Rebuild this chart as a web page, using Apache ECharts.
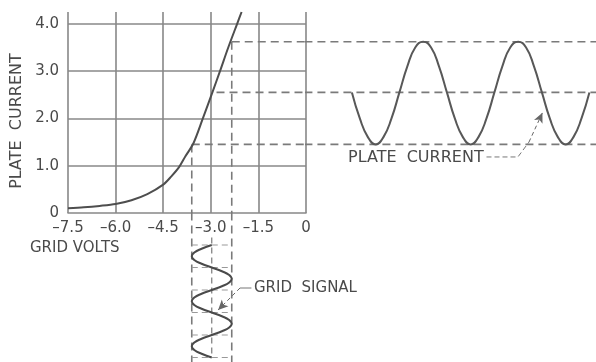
<!DOCTYPE html>
<html><head><meta charset="utf-8">
<script src="https://cdn.jsdelivr.net/npm/echarts@6/dist/echarts.min.js"></script>
<style>html,body{margin:0;padding:0;background:#fff}#c{width:596px;height:362px}</style>
</head><body><div id="c"></div>
<script>
// ---- data ----
const curveVolts   = [-7.5,-7.0,-6.5,-6.0,-5.5,-5.0,-4.5,-4.25,-4.0,-3.8,-3.55,-3.25,-2.95,-2.71,-2.45,-2.17,-2.03];
const curveCurrent = [0.10,0.12,0.15,0.19,0.27,0.40,0.60,0.77,0.97,1.20,1.47,2.00,2.55,3.00,3.50,4.00,4.25];
const xTicks = [-7.5,-6.0,-4.5,-3.0,-1.5,0];
const yTicks = [0,1,2,3,4];
// operating levels (mA) and grid swing (V)
const plateMax = 3.62, plateMid = 2.55, plateMin = 1.45;
const gridLow = -3.6, gridMid = -2.97, gridHigh = -2.34;
// plate current waveform: phase (deg) vs mA
const platePhase = [0,30,60,90,120,150,180,210,240,270,300,330,360,390,420,450,480,510,540,570,600,630,660,690,720,750,780,810,840,870,900];
const plateWave  = [2.55,2.0,1.61,1.45,1.61,2.0,2.55,3.1,3.5,3.62,3.5,3.1,2.55,2.0,1.61,1.45,1.61,2.0,2.55,3.1,3.5,3.62,3.5,3.1,2.55,2.0,1.61,1.45,1.61,2.0,2.55];
// grid signal waveform: phase (deg, downward) vs volts
const gridPhase = platePhase;
const gridWave  = [-2.97,-3.29,-3.52,-3.6,-3.52,-3.29,-2.97,-2.65,-2.42,-2.34,-2.42,-2.65,-2.97,-3.29,-3.52,-3.6,-3.52,-3.29,-2.97,-2.65,-2.42,-2.34,-2.42,-2.65,-2.97,-3.29,-3.52,-3.6,-3.52,-3.29,-2.97];
const gridLevels = [0,180,360,540,720,900];

const FONT = 'DejaVu Sans';
const TXT = '#4a4a4a';
const GRIDC = '#888';
const DASHC = '#7a7a7a';

const chart = echarts.init(document.getElementById('c'), null, {renderer:'canvas'});

function seg(ax, pts, style){
  return {type:'line', xAxisIndex:ax, yAxisIndex:ax, data:pts, symbol:'none', silent:true, animation:false,
    lineStyle:Object.assign({color:DASHC, width:1.6, type:[8,5]}, style||{}), z:3};
}
function arrow(ax, from, to){
  return {type:'line', xAxisIndex:ax, yAxisIndex:ax, data:[], silent:true, animation:false,
    markLine:{silent:true, symbol:['none','arrow'], symbolSize:[7,10], label:{show:false},
      lineStyle:{color:'#666', width:1, type:[4,3]},
      data:[[{coord:from},{coord:to}]]}};
}
const series = [];
// main tube curve
series.push({type:'line', xAxisIndex:0, yAxisIndex:0, smooth:0.3, symbol:'none', animation:false,
  data: curveVolts.map((v,i)=>[v,curveCurrent[i]]), lineStyle:{color:'#4e4e4e', width:2}, z:5});
// projection lines inside main chart
series.push(seg(0, [[gridHigh, plateMax],[0, plateMax]]));
series.push(seg(0, [[-2.82, plateMid],[0, plateMid]]));
series.push(seg(0, [[gridLow, plateMin],[0, plateMin]]));
series.push(seg(0, [[gridLow, plateMin],[gridLow, 0]]));
series.push(seg(0, [[gridHigh, plateMax],[gridHigh, 0]]));
// plate current panel
series.push(seg(1, [[-180, plateMax],[930, plateMax]]));
series.push(seg(1, [[-180, plateMid],[930, plateMid]]));
series.push(seg(1, [[-180, plateMin],[930, plateMin]]));
series.push({type:'line', xAxisIndex:1, yAxisIndex:1, smooth:0.5, symbol:'none', animation:false,
  data: platePhase.map((p,i)=>[p,plateWave[i]]), lineStyle:{color:'#585858', width:2}, z:5});
series.push(seg(1, [[510,1.185],[629,1.185],[671,1.5]], {width:1, type:[5,3], color:'#777'}));
series.push(arrow(1, [671,1.5],[722,2.12]));
// grid signal panel
series.push(seg(2, [[gridLow,-260],[gridLow,940]]));
series.push(seg(2, [[gridHigh,-260],[gridHigh,940]]));
series.push(seg(2, [[gridMid,-60],[gridMid,900]], {width:1.2, type:[6,4]}));
gridLevels.forEach(t=>series.push(seg(2, [[gridLow,t],[gridHigh,t]], {width:1.2, type:[6,4], color:'#999'})));
series.push({type:'line', xAxisIndex:2, yAxisIndex:2, smooth:0.5, symbol:'none', animation:false,
  data: gridPhase.map((p,i)=>[gridWave[i],p]), lineStyle:{color:'#4a4a4a', width:2}, z:5});
series.push(seg(2, [[-1.72,344],[-2.08,344]], {width:1, type:'solid', color:'#777'}));
series.push(arrow(2, [-2.08,344],[-2.77,520]));

const option = {
  animation:false,
  backgroundColor:'#fff',
  grid:[
    {left:68, top:12, width:238, height:201},
    {left:306, top:12, width:290, height:201},
    {left:68, top:213, width:238, height:149}
  ],
  xAxis:[
    {gridIndex:0, type:'value', min:-7.5, max:0, interval:1.5,
      axisLine:{show:true, onZero:false, lineStyle:{color:GRIDC, width:1.6}}, axisTick:{show:false},
      splitLine:{show:true, lineStyle:{color:GRIDC, width:1.6}},
      axisLabel:{show:true, margin:8, color:TXT, fontFamily:FONT, fontSize:15, showMinLabel:true, showMaxLabel:true,
        formatter:v=> xTicks.indexOf(v)<0 ? '' : (v===0 ? '0' : '\u2013'+Math.abs(v).toFixed(1))}},
    {gridIndex:1, type:'value', min:-174, max:925, show:false},
    {gridIndex:2, type:'value', min:-7.5, max:0, show:false}
  ],
  yAxis:[
    {gridIndex:0, type:'value', min:0, max:4.25, interval:1,
      axisLine:{show:false}, axisTick:{show:false},
      splitLine:{show:true, showMinLine:false, showMaxLine:false, lineStyle:{color:GRIDC, width:1.6}},
      axisLabel:{show:true, margin:9, color:TXT, fontFamily:FONT, fontSize:15, showMaxLabel:false,
        formatter:v=> yTicks.indexOf(v)<0 ? '' : (v===0 ? '0' : v.toFixed(1))}},
    {gridIndex:1, type:'value', min:0, max:4.25, show:false},
    {gridIndex:2, type:'value', min:-256, max:936, inverse:true, show:false}
  ],
  graphic:[
    {type:'text', x:17, y:121, rotation:Math.PI/2, style:{text:'PLATE  CURRENT', fill:TXT, font:'16px "DejaVu Sans"', textAlign:'center', textVerticalAlign:'middle'}},
    {type:'text', x:30, y:248, style:{text:'GRID VOLTS', fill:TXT, font:'15px "DejaVu Sans"', textAlign:'left', textVerticalAlign:'middle'}},
    {type:'text', x:348, y:158, style:{text:'PLATE  CURRENT', fill:TXT, font:'16px "DejaVu Sans"', textAlign:'left', textVerticalAlign:'middle'}},
    {type:'text', x:254, y:288, style:{text:'GRID  SIGNAL', fill:TXT, font:'15px "DejaVu Sans"', textAlign:'left', textVerticalAlign:'middle'}}
  ],
  series: series
};
chart.setOption(option);
</script>
</body></html>
